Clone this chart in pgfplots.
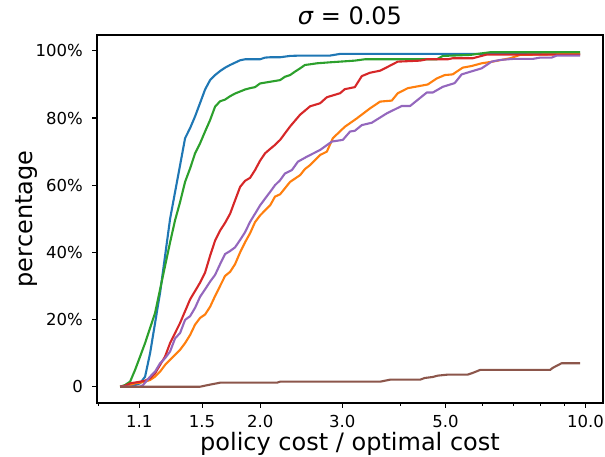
\documentclass[border=0pt]{standalone}
\usepackage{pgfplots}
\pgfplotsset{compat=1.18}
\usepackage{fontspec}
\setmainfont{DejaVu Sans}
\definecolor{tabblue}{HTML}{1F77B4}
\definecolor{taborange}{HTML}{FF7F0E}
\definecolor{tabgreen}{HTML}{2CA02C}
\definecolor{tabred}{HTML}{D62728}
\definecolor{tabpurple}{HTML}{9467BD}
\definecolor{tabbrown}{HTML}{8C564B}
\newcommand{\tickfont}{\fontsize{16.5bp}{20bp}\selectfont}

\pgfplotstableread{
x y
1.0000 0
1.0250 0
1.0507 0.3
1.0769 0.5
1.1040 1
1.1316 3
1.1600 10
1.1889 19
1.2188 28
1.2492 39
1.2806 50
1.3126 58
1.3456 66
1.3792 74
1.4138 77
1.4491 80.5
1.4855 84.5
1.5226 88.5
1.5609 91.3
1.5998 92.8
1.6400 94
1.6810 95
1.7232 95.8
1.7661 96.5
1.8106 97.2
1.8555 97.5
1.9989 97.5
2.0484 98
2.1003 98.1
2.2068 98.1
2.3187 98.5
2.4363 98.6
2.8261 98.6
2.9694 99.1
9.7346 99.1
}\blue

\pgfplotstableread{
x y
1.0000 0
1.0507 0.5
1.0769 1
1.1040 1.2
1.1316 1.5
1.1600 2
1.1889 3
1.2188 4.5
1.2492 6.5
1.2806 8
1.3126 9.5
1.3456 11
1.3792 13
1.4138 15.4
1.4491 18.5
1.4855 20.5
1.5226 21.5
1.5609 23.8
1.5998 27
1.6400 30
1.6810 33
1.7232 34.2
1.7661 36.5
1.8106 40
1.8555 43
1.9024 45.7
1.9496 49
1.9989 51
2.0484 52.5
2.1003 54
2.1518 56.6
2.2068 57.3
2.3187 61
2.4363 63
2.4946 64.8
2.5599 66
2.6897 69
2.7808 70
2.8648 74
3.0393 77.4
3.2256 79.9
3.4445 82.9
3.6192 84.9
3.8347 85.2
3.9503 87.4
4.1506 88.9
4.5816 90
4.7899 91.8
4.9831 92.8
5.1812 93
5.4446 95
5.6921 95.5
5.9797 96.3
6.3150 96.8
6.8853 97.8
7.2345 98.8
9.7346 99.1
}\orange

\pgfplotstableread{
x y
1.0000 0
1.0250 0.5
1.0507 1.5
1.0769 5
1.1040 9
1.1316 13
1.1600 17.5
1.1889 22
1.2188 29
1.2492 36
1.2806 43
1.3126 49.6
1.3456 55
1.3792 61
1.4138 65
1.4491 69.5
1.4855 72.5
1.5226 76
1.5609 79.4
1.5998 83.4
1.6400 85
1.6810 85.5
1.7232 86.5
1.7661 87.3
1.8106 87.9
1.8555 88.5
1.9024 88.9
1.9496 89.2
1.9989 90.3
2.1003 90.8
2.2068 91.3
2.2604 92.3
2.3187 92.8
2.3740 93.8
2.4363 94.8
2.4946 95.8
2.5599 96
2.6469 96.3
2.8261 96.6
2.9694 96.8
3.1936 97.1
3.3555 97.5
4.7899 97.5
4.9341 98.5
5.6492 98.8
6.2367 99.6
9.7346 99.6
}\green

\pgfplotstableread{
x y
1.0000 0
1.0250 0.3
1.0507 1
1.1040 1.5
1.1316 1.8
1.1600 2.5
1.1889 4
1.2188 6.5
1.2492 9
1.2806 13
1.3126 16
1.3456 19
1.3792 22.5
1.4138 26
1.4491 28.5
1.4855 31
1.5226 34
1.5609 39
1.5998 43.5
1.6400 46.5
1.6810 48.8
1.7232 51.5
1.7661 55.5
1.8106 59.5
1.8555 61.3
1.9024 62.2
1.9496 64.5
1.9989 67.3
2.0484 69.5
2.1003 70.8
2.1518 72
2.2068 73.5
2.3187 77.5
2.4363 81
2.5599 83.5
2.6897 84.4
2.7808 86.2
2.9694 87.4
3.0393 88.6
3.1936 89.2
3.3061 92.5
3.4445 93.5
3.6192 94.1
3.7408 95.1
3.9503 96.8
4.4112 97.1
4.5590 97.5
5.0577 97.5
5.1812 97.8
5.7203 97.8
6.1304 98.9
9.7346 98.9
}\red

\pgfplotstableread{
x y
1.0000 0
1.1040 0
1.1205 0.5
1.1600 3
1.1889 4.5
1.2188 7
1.2492 8.5
1.2806 10.5
1.3126 14.4
1.3456 16
1.3792 19.9
1.4138 21
1.4491 23.5
1.4855 26.8
1.5226 29
1.5609 31.3
1.5998 33.3
1.6400 36.5
1.6810 39.5
1.7232 40.4
1.7661 41.5
1.8106 43.7
1.8555 46
1.9024 49.1
1.9496 51.5
1.9989 54
2.0484 56
2.1003 58
2.1518 60
2.2068 61.5
2.2604 63.5
2.3391 64.5
2.4096 67
2.5193 68.5
2.6897 70.5
2.8507 73
3.0095 73.5
3.1200 76
3.1936 76.2
3.3061 77.9
3.4724 78.6
3.7408 81.4
4.0291 83.6
4.1983 83.6
4.3392 85.2
4.5590 87.6
4.6960 87.6
4.9341 89.3
5.2327 90.4
5.4178 93
5.7203 94
5.9797 94.8
6.2838 96.8
6.5530 97.3
6.9717 97.6
7.6957 97.6
7.9869 98
8.4552 98
8.6665 98.6
9.7346 98.6
}\purple

\pgfplotstableread{
x y
1.0000 0
1.4855 0
1.5449 0.5
1.6400 1.2
2.1727 1.2
2.2068 1.5
3.6192 1.5
3.8028 2.1
4.4112 2.1
4.5140 2.6
4.6960 2.9
4.8136 3.3
5.0577 3.6
5.5807 3.6
5.7203 4.1
5.9357 5
8.3920 5
8.4969 5.6
8.8832 7
9.7346 7
}\brown

\begin{document}
\begin{tikzpicture}
\begin{axis}[
    xmode=log,
    scale only axis,
    width=506bp,
    height=368bp,
    xmin=0.892, xmax=10.9,
    ymin=-4.85, ymax=104.73,
    xtick={1.1,1.5,2,3,5,10},
    xticklabels={1.1,1.5,2.0,3.0,5.0,10.0},
    minor xtick={0.9,4,6,7,8,9},
    ytick={0,20,40,60,80,100},
    yticklabels={0,20\%,40\%,60\%,80\%,100\%},
    tick pos=left,
    tick align=outside,
    major tick length=4.9bp,
    minor tick length=2.8bp,
    every tick/.style={black, line width=1.1bp},
    every minor tick/.style={black, line width=0.8bp},
    axis line style={black, line width=1.1bp},
    every tick label/.append style={font=\tickfont, inner sep=0pt},
    xticklabel style={anchor=base, yshift=-20bp},
    yticklabel style={anchor=east, xshift=-9bp},
    xlabel={policy cost / optimal cost},
    ylabel={percentage},
    label style={font=\fontsize{24bp}{28bp}\selectfont, inner sep=0pt},
    xlabel style={at={(axis description cs:0.5,-0.128)}, anchor=base},
    ylabel style={at={(axis description cs:-0.1166,0.5)}, anchor=south},
    title={{\itshape σ} = 0.05},
    title style={font=\fontsize{24bp}{28bp}\selectfont, inner sep=0pt,
        at={(axis description cs:0.5,1)}, anchor=base, yshift=5bp},
    every axis plot/.append style={line width=2.1bp, line join=round},
]
\addplot[tabblue] table {\blue};
\addplot[taborange] table {\orange};
\addplot[tabgreen] table {\green};
\addplot[tabred] table {\red};
\addplot[tabpurple] table {\purple};
\addplot[tabbrown] table {\brown};
\coordinate (ll) at (rel axis cs:0,0);
\end{axis}
\pgfresetboundingbox
\path[use as bounding box] ([shift={(-97bp,-54bp)}]ll) rectangle ++(605bp,457bp);
\end{tikzpicture}
\end{document}
